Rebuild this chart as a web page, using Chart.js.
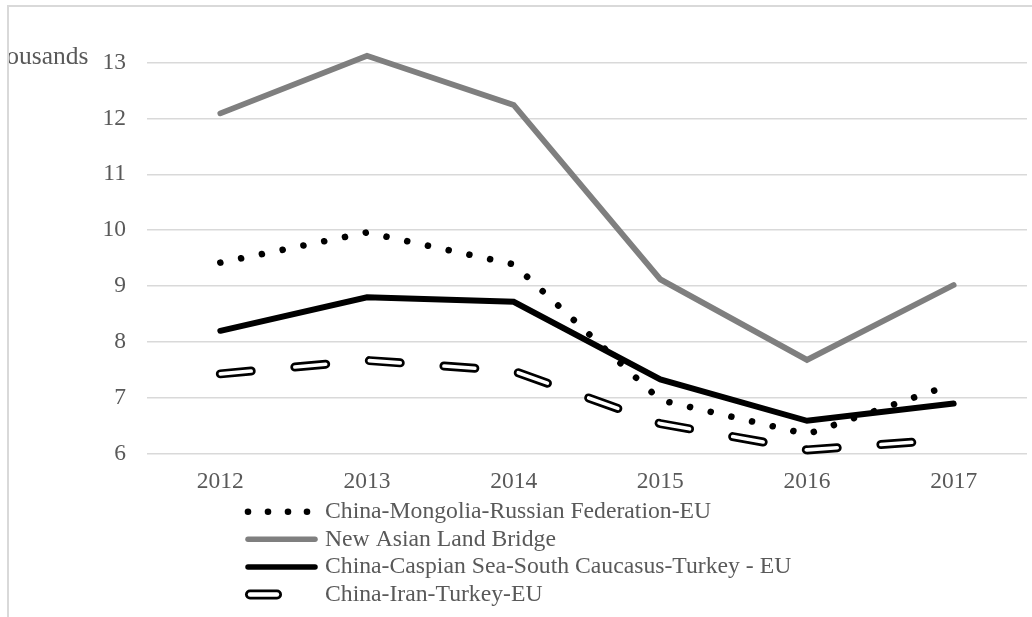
<!DOCTYPE html>
<html>
<head>
<meta charset="utf-8">
<script src="https://cdn.jsdelivr.net/npm/chart.js@4.4.1/dist/chart.umd.min.js"></script>
<style>
  html, body { margin: 0; padding: 0; background: #fff; overflow: hidden; }
  #frame {
    position: absolute; left: 7px; top: 5px;
    width: 1025px; height: 612px;
    border-left: 2px solid #d9d9d9; border-top: 2px solid #d9d9d9;
  }
  #frame canvas { display: block; }
</style>
</head>
<body>
<div id="frame"><canvas id="chart" width="1023" height="610"></canvas></div>
<script>
// Corridor volumes, thousands
const years = ['2012', '2013', '2014', '2015', '2016', '2017'];
const mongoliaRussiaEU = [9.42, 9.96, 9.39, 6.96, 6.35, 7.25];
const newAsianLandBridge = [12.09, 13.12, 12.24, 9.12, 7.68, 9.02];
const caspianCaucasusTurkeyEU = [8.20, 8.80, 8.72, 7.33, 6.59, 6.90];
const iranTurkeyEU = [7.43, 7.67, 7.48, 6.54, 6.07, 6.26];
const yTickValues = [6, 7, 8, 9, 10, 11, 12, 13];
const unitLabel = 'Thousands';
const seriesNames = [
  'China-Mongolia-Russian Federation-EU',
  'New Asian Land Bridge',
  'China-Caspian Sea-South Caucasus-Turkey - EU',
  'China-Iran-Turkey-EU'
];

const FONT_FAMILY = '"Liberation Serif", "Times New Roman", serif';
const TICK_SIZE = 23.5;
const LEGEND_SIZE = 23.7;
const TEXT_COLOR = '#595959';
const GRAY = '#7f7f7f';
const LONG_DASH = [31, 43.8];

// Little legend swatches
function drawSwatch(ctx, kind, x, y) {
  ctx.save();
  ctx.lineCap = 'round';
  if (kind === 'dots') {
    ctx.fillStyle = '#000';
    [0, 20, 40, 59].forEach(dx => {
      ctx.beginPath();
      ctx.arc(x + 3 + dx, y, 3.3, 0, Math.PI * 2);
      ctx.fill();
    });
  } else if (kind === 'gray' || kind === 'black') {
    ctx.strokeStyle = kind === 'gray' ? GRAY : '#000';
    ctx.lineWidth = 5.5;
    ctx.beginPath();
    ctx.moveTo(x + 3, y);
    ctx.lineTo(x + 70, y);
    ctx.stroke();
  } else if (kind === 'hollow') {
    ctx.fillStyle = '#000';
    ctx.beginPath();
    ctx.roundRect(x, y - 5, 37, 10, 5);
    ctx.fill();
    ctx.fillStyle = '#fff';
    ctx.beginPath();
    ctx.roundRect(x + 2.8, y - 2.2, 31.4, 4.4, 2.2);
    ctx.fill();
  }
  ctx.restore();
}

const stackedLegend = {
  id: 'stackedLegend',
  afterDraw(chart, args, opts) {
    const ctx = chart.ctx;
    ctx.save();
    ctx.font = LEGEND_SIZE + 'px ' + FONT_FAMILY;
    ctx.fillStyle = TEXT_COLOR;
    ctx.textBaseline = 'middle';
    ctx.textAlign = 'left';
    let y = opts.top;
    chart.data.datasets.forEach(ds => {
      if (!ds.legendKind) return;
      drawSwatch(ctx, ds.legendKind, opts.left, y);
      ctx.fillText(ds.label, opts.textLeft, y);
      y += opts.rowHeight;
    });
    ctx.restore();
  }
};

const unitTitle = {
  id: 'unitTitle',
  afterDraw(chart, args, opts) {
    const ctx = chart.ctx;
    ctx.save();
    ctx.font = opts.size + 'px ' + FONT_FAMILY;
    ctx.fillStyle = TEXT_COLOR;
    ctx.textAlign = 'right';
    ctx.textBaseline = 'alphabetic';
    ctx.fillText(opts.text, opts.right, opts.baseline);
    ctx.restore();
  }
};

const tickFont = { family: FONT_FAMILY, size: TICK_SIZE };

new Chart(document.getElementById('chart'), {
  type: 'line',
  data: {
    labels: years,
    datasets: [
      {
        label: seriesNames[0], data: mongoliaRussiaEU, legendKind: 'dots', order: 3,
        borderColor: '#000', borderWidth: 6.6, borderDash: [0.01, 21.2],
        borderCapStyle: 'round', borderJoinStyle: 'round', clip: false
      },
      {
        label: seriesNames[1], data: newAsianLandBridge, legendKind: 'gray', order: 4,
        borderColor: GRAY, borderWidth: 5.8, borderCapStyle: 'round',
        borderJoinStyle: 'miter', clip: false
      },
      {
        label: seriesNames[2], data: caspianCaucasusTurkeyEU, legendKind: 'black', order: 2,
        borderColor: '#000', borderWidth: 6, borderCapStyle: 'round',
        borderJoinStyle: 'miter', clip: false
      },
      {
        label: seriesNames[3], data: iranTurkeyEU, legendKind: 'hollow', order: 1,
        borderColor: '#000', borderWidth: 9, borderDash: LONG_DASH,
        borderCapStyle: 'round', borderJoinStyle: 'round', clip: false
      },
      {
        // white core that makes the Iran dashes hollow
        label: seriesNames[3], data: iranTurkeyEU, order: 0,
        borderColor: '#fff', borderWidth: 3.6, borderDash: LONG_DASH,
        borderCapStyle: 'round', borderJoinStyle: 'round', clip: false
      }
    ]
  },
  options: {
    responsive: false,
    animation: false,
    devicePixelRatio: 1,
    layout: { padding: { top: 55.5, right: 5, left: 0, bottom: 113.2 } },
    elements: { point: { radius: 0, hoverRadius: 0 }, line: { tension: 0 } },
    plugins: {
      legend: { display: false },
      tooltip: { enabled: false },
      stackedLegend: { left: 236, textLeft: 316, top: 504.7, rowHeight: 27.6 },
      unitTitle: { text: unitLabel, right: 79.5, baseline: 57, size: 25.5 }
    },
    scales: {
      x: {
        offset: true,
        grid: { display: false, drawTicks: false },
        border: { display: false },
        ticks: { font: tickFont, color: TEXT_COLOR, padding: 14, maxRotation: 0 },
        afterFit(scale) { scale.height = 50; }
      },
      y: {
        min: 6, max: 13,
        grid: { color: '#d9d9d9', lineWidth: 1.5, drawTicks: false },
        border: { display: false },
        ticks: { font: tickFont, color: TEXT_COLOR, padding: 21 },
        afterBuildTicks(scale) { scale.ticks = yTickValues.map(v => ({ value: v })); },
        afterFit(scale) { scale.width = 138; }
      }
    }
  },
  plugins: [stackedLegend, unitTitle]
});
</script>
</body>
</html>
